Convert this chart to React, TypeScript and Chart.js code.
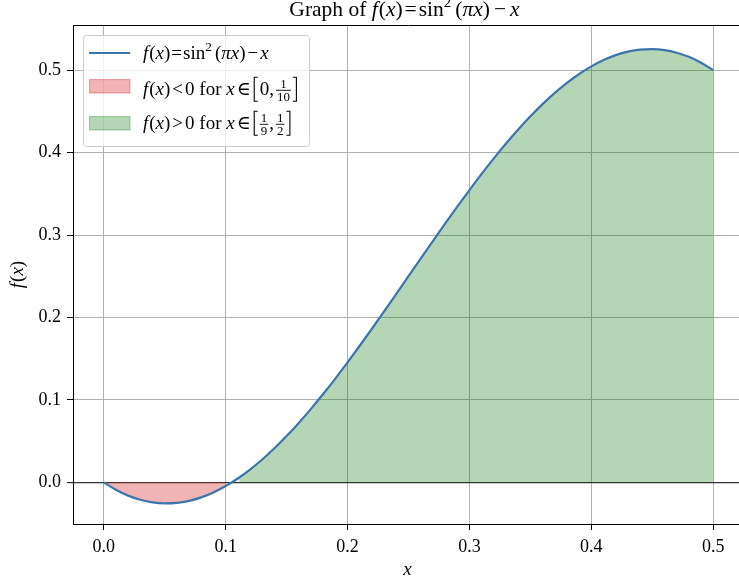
import React, { useEffect, useRef } from 'react';
import { Chart, registerables } from 'chart.js';

Chart.register(...registerables);

// ---- data ----
const xValues = [
  0, 0.01, 0.02, 0.03, 0.04, 0.05, 0.06, 0.07, 0.08, 0.09, 0.1,
  0.11, 0.12, 0.13, 0.14, 0.15, 0.16, 0.17, 0.18, 0.19, 0.2,
  0.21, 0.22, 0.23, 0.24, 0.25, 0.26, 0.27, 0.28, 0.29, 0.3,
  0.31, 0.32, 0.33, 0.34, 0.35, 0.36, 0.37, 0.38, 0.39, 0.4,
  0.41, 0.42, 0.43, 0.44, 0.45, 0.46, 0.47, 0.48, 0.49, 0.5,
];
const fValues = [
  0, -0.009, -0.0161, -0.0211, -0.0243, -0.0255, -0.0249, -0.0224, -0.0182, -0.0122, -0.0045,
  0.0047, 0.0155, 0.0277, 0.0413, 0.0561, 0.0721, 0.0891, 0.1071, 0.1259, 0.1455,
  0.1657, 0.1863, 0.2073, 0.2286, 0.25, 0.2714, 0.2927, 0.3137, 0.3343, 0.3545,
  0.3741, 0.3929, 0.4109, 0.4279, 0.4439, 0.4587, 0.4723, 0.4845, 0.4953, 0.5045,
  0.5122, 0.5182, 0.5224, 0.5249, 0.5255, 0.5243, 0.5211, 0.5161, 0.509, 0.5,
];
const negInterval = [0, 0.1];
const posInterval = [0.1111, 0.5];
const posStartValue = 0.0059;
const xTicks = [0, 0.1, 0.2, 0.3, 0.4, 0.5];
const yTicks = [0, 0.1, 0.2, 0.3, 0.4, 0.5];

const SERIF = '"Liberation Serif", "DejaVu Serif", serif';
const LINE_COLOR = '#3b75af';
const NEG_FILL = 'rgba(214,39,40,0.35)';
const POS_FILL = 'rgba(0,115,0,0.29)';
const LABEL_SIZE = 19;

type Seg = { t?: string; i?: boolean; s?: number; dy?: number; sp?: number; fr?: [string, string]; br?: string };

const F_X: Seg[] = [{ t: 'f', i: true }, { sp: 1 }, { t: '(' }, { t: 'x', i: true }, { t: ')' }];

const titleSegs: Seg[] = [
  { t: 'Graph of ' }, ...F_X, { sp: 2 }, { t: '=' }, { sp: 2 }, { t: 'sin' },
  { t: '2', s: 0.7, dy: -0.42 }, { sp: 4 }, { t: '(' }, { t: 'π', i: true }, { t: 'x', i: true },
  { t: ')' }, { sp: 4 }, { t: '−' }, { sp: 4 }, { t: 'x', i: true },
];
const legendRows: Seg[][] = [
  [...F_X, { sp: 1 }, { t: '=' }, { sp: 1 }, { t: 'sin' }, { t: '2', s: 0.7, dy: -0.42 }, { sp: 3 },
    { t: '(' }, { t: 'π', i: true }, { t: 'x', i: true }, { t: ')' }, { sp: 2 }, { t: '−' }, { sp: 2 }, { t: 'x', i: true }],
  [...F_X, { sp: 2 }, { t: '<' }, { sp: 2 }, { t: '0 for ' }, { t: 'x', i: true }, { sp: 2 }, { t: '∈' },
    { sp: 2 }, { br: '[' }, { t: '0,' }, { sp: 2 }, { fr: ['1', '10'] }, { br: ']' }],
  [...F_X, { sp: 2 }, { t: '>' }, { sp: 2 }, { t: '0 for ' }, { t: 'x', i: true }, { sp: 2 }, { t: '∈' },
    { sp: 2 }, { br: '[' }, { fr: ['1', '9'] }, { t: ',' }, { sp: 2 }, { fr: ['1', '2'] }, { br: ']' }],
];

function rich(ctx: CanvasRenderingContext2D, segs: Seg[], x: number, y: number, size: number, draw: boolean) {
  let cx = x;
  ctx.fillStyle = '#000';
  ctx.textBaseline = 'alphabetic';
  ctx.textAlign = 'left';
  for (const s of segs) {
    if (s.sp !== undefined) { cx += s.sp; continue; }
    if (s.fr) {
      const fs = size * 0.68;
      ctx.font = `${fs}px ${SERIF}`;
      const w = Math.max(ctx.measureText(s.fr[0]).width, ctx.measureText(s.fr[1]).width) + 2;
      if (draw) {
        const bar = y - size * 0.25;
        ctx.textAlign = 'center';
        ctx.fillText(s.fr[0], cx + w / 2, bar - 2.5);
        ctx.fillText(s.fr[1], cx + w / 2, bar + 10.5);
        ctx.fillRect(cx, bar - 0.45, w, 0.9);
        ctx.textAlign = 'left';
      }
      cx += w + 1;
      continue;
    }
    if (s.br) {
      if (draw) {
        const bar = y - size * 0.25;
        const top = bar - 13, bot = bar + 11;
        ctx.beginPath();
        if (s.br === '[') {
          ctx.moveTo(cx + 5, top); ctx.lineTo(cx + 1.5, top); ctx.lineTo(cx + 1.5, bot); ctx.lineTo(cx + 5, bot);
        } else {
          ctx.moveTo(cx + 1, top); ctx.lineTo(cx + 4.5, top); ctx.lineTo(cx + 4.5, bot); ctx.lineTo(cx + 1, bot);
        }
        ctx.lineWidth = 1.1; ctx.strokeStyle = '#000'; ctx.stroke();
      }
      cx += 7;
      continue;
    }
    const fs = size * (s.s || 1);
    ctx.font = `${s.i ? 'italic ' : ''}${fs}px ${SERIF}`;
    if (draw) ctx.fillText(s.t || '', cx, y + (s.dy || 0) * size);
    cx += ctx.measureText(s.t || '').width;
  }
  return cx - x;
}

const decorPlugin = {
  id: 'decor',
  afterDraw(chart: any) {
    const ctx: CanvasRenderingContext2D = chart.ctx;
    const ca = chart.chartArea;
    ctx.save();
    // top spine
    ctx.strokeStyle = '#000';
    ctx.lineWidth = 1;
    ctx.beginPath();
    ctx.moveTo(ca.left, Math.round(ca.top) + 0.5);
    ctx.lineTo(ca.right, Math.round(ca.top) + 0.5);
    ctx.stroke();

    // title
    const tw = rich(ctx, titleSegs, 0, 0, 21.5, false);
    rich(ctx, titleSegs, 404.5 - tw / 2, 16, 21.5, true);

    // x label
    const xw = rich(ctx, [{ t: 'x', i: true }], 0, 0, LABEL_SIZE, false);
    rich(ctx, [{ t: 'x', i: true }], 407.5 - xw / 2, 575, LABEL_SIZE, true);

    // y label
    ctx.save();
    ctx.translate(23, (ca.top + ca.bottom) / 2);
    ctx.rotate(-Math.PI / 2);
    const yw = rich(ctx, F_X, 0, 0, LABEL_SIZE, false);
    rich(ctx, F_X, -yw / 2, 0, LABEL_SIZE, true);
    ctx.restore();

    // legend
    const lx = 83.5, ly = 35.5, lw = 226, lh = 111;
    ctx.beginPath();
    (ctx as any).roundRect(lx, ly, lw, lh, 3);
    ctx.fillStyle = 'rgba(255,255,255,0.8)';
    ctx.fill();
    ctx.strokeStyle = '#cccccc';
    ctx.lineWidth = 1;
    ctx.stroke();

    ctx.strokeStyle = LINE_COLOR;
    ctx.lineWidth = 2.2;
    ctx.beginPath();
    ctx.moveTo(89, 53);
    ctx.lineTo(130, 53);
    ctx.stroke();

    const patch = (y: number, c: string) => {
      ctx.fillStyle = c;
      ctx.fillRect(89.5, y, 40.5, 13.5);
      ctx.strokeStyle = c;
      ctx.lineWidth = 1.2;
      ctx.strokeRect(89.5, y, 40.5, 13.5);
    };
    patch(79.5, NEG_FILL);
    patch(116.5, POS_FILL);

    const baselines = [59, 95, 129];
    legendRows.forEach((row, k) => rich(ctx, row, 143, baselines[k], LABEL_SIZE, true));
    ctx.restore();
  },
};

export default function App() {
  const ref = useRef<HTMLCanvasElement>(null);
  useEffect(() => {
    document.body.style.margin = '0';
    const curve = xValues.map((x, i) => ({ x, y: fValues[i] }));
    const neg = curve.filter((p) => p.x >= negInterval[0] - 1e-9 && p.x <= negInterval[1] + 1e-9);
    const pos = [
      { x: posInterval[0], y: posStartValue },
      ...curve.filter((p) => p.x > posInterval[0] && p.x <= posInterval[1] + 1e-9),
    ];
    const isZero = (c: any) => c.tick && Math.abs(c.tick.value) < 1e-9;
    const chart = new Chart(ref.current as HTMLCanvasElement, {
      type: 'line',
      data: {
        datasets: [
          {
            label: 'f',
            data: curve,
            borderColor: LINE_COLOR,
            borderWidth: 2.2,
            pointRadius: 0,
            fill: false,
            cubicInterpolationMode: 'monotone',
          },
          {
            label: 'neg',
            data: neg,
            borderColor: 'rgba(0,0,0,0)',
            backgroundColor: NEG_FILL,
            pointRadius: 0,
            fill: 'origin',
            cubicInterpolationMode: 'monotone',
          },
          {
            label: 'pos',
            data: pos,
            borderColor: 'rgba(0,0,0,0)',
            backgroundColor: POS_FILL,
            pointRadius: 0,
            fill: 'origin',
            cubicInterpolationMode: 'monotone',
          },
        ],
      } as any,
      options: {
        animation: false,
        responsive: false,
        devicePixelRatio: 1,
        layout: { padding: { top: 25, right: 16, left: 0, bottom: 0 } },
        plugins: { legend: { display: false }, title: { display: false }, tooltip: { enabled: false } },
        scales: {
          x: {
            type: 'linear',
            min: -0.0252,
            max: 0.5252,
            afterBuildTicks: (s: any) => { s.ticks = xTicks.map((v) => ({ value: v })); },
            afterFit: (s: any) => { s.height = 61; },
            ticks: {
              callback: (v: any) => Number(v).toFixed(1),
              font: { family: SERIF, size: 18 },
              color: '#000',
              padding: 6,
              autoSkip: false,
              maxRotation: 0,
            },
            grid: { color: '#b0b0b0', lineWidth: 1, tickLength: 6, tickColor: '#000', tickWidth: 1 },
            border: { color: '#000', width: 1 },
          },
          y: {
            type: 'linear',
            min: -0.0505,
            max: 0.5547,
            afterBuildTicks: (s: any) => { s.ticks = yTicks.map((v) => ({ value: v })); },
            afterFit: (s: any) => { s.width = 73; },
            ticks: {
              callback: (v: any) => Number(v).toFixed(1),
              font: { family: SERIF, size: 18 },
              color: '#000',
              padding: 6,
              autoSkip: false,
            },
            grid: {
              color: (c: any) => (isZero(c) ? '#333333' : '#b0b0b0'),
              lineWidth: (c: any) => (isZero(c) ? 1.3 : 1),
              tickLength: 6,
              tickColor: '#000',
              tickWidth: 1,
            },
            border: { color: '#000', width: 1 },
          },
        },
      } as any,
      plugins: [decorPlugin],
    });
    return () => chart.destroy();
  }, []);
  return (
    <div style={{ position: 'absolute', left: 0, top: 0, width: 739, height: 585, overflow: 'hidden', background: '#fff' }}>
      <canvas ref={ref} width={760} height={585} style={{ display: 'block', width: 760, height: 585 }} />
    </div>
  );
}
